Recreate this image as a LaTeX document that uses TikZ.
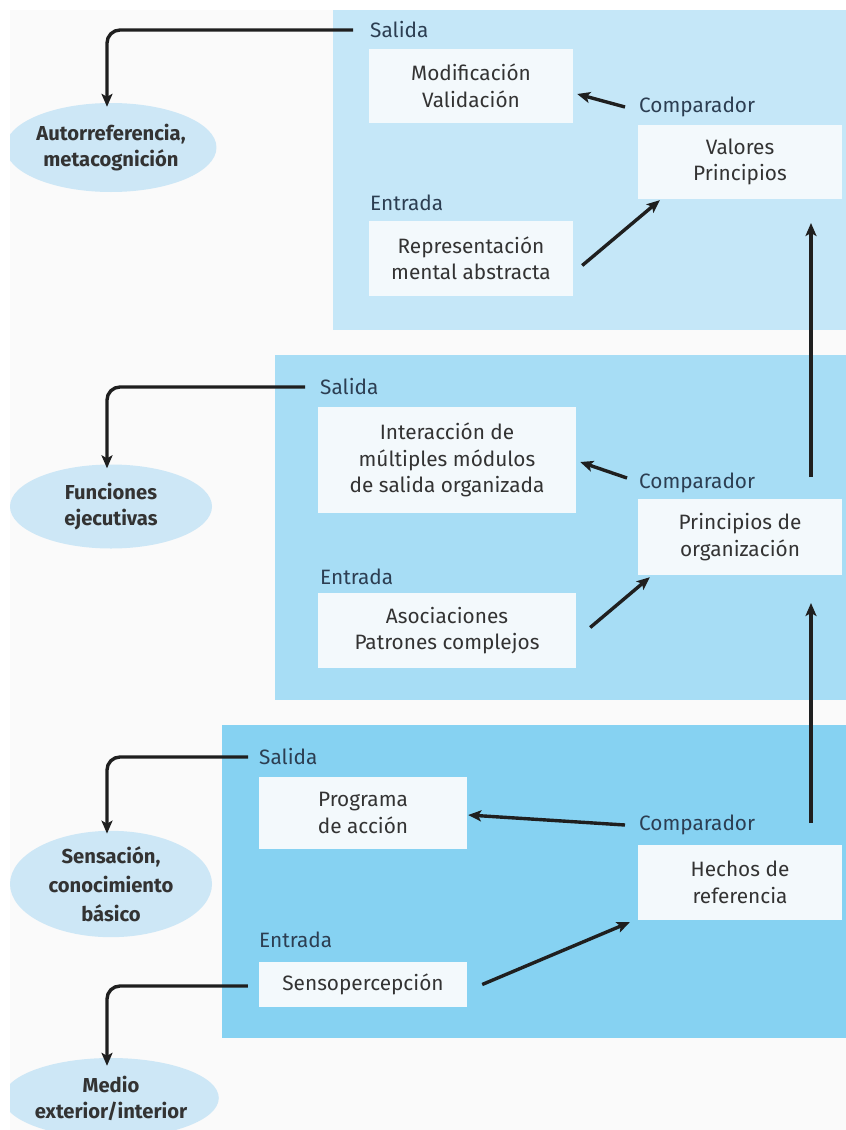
\documentclass[tikz,border=0pt]{standalone}
\usepackage{fontspec}
\setmainfont{Fira Sans}
\usetikzlibrary{arrows.meta,shapes.geometric,calc}
\definecolor{bgc}{HTML}{FAFAFA}
\definecolor{pone}{HTML}{C5E7F8}
\definecolor{ptwo}{HTML}{A7DDF5}
\definecolor{pthree}{HTML}{86D2F2}
\definecolor{boxc}{HTML}{F3F9FC}
\definecolor{ellc}{HTML}{CDE7F6}
\definecolor{txtc}{HTML}{333333}
\definecolor{lblc}{HTML}{2C3E52}
\begin{document}
\begin{tikzpicture}[x=1pt,y=-1pt,
  txt/.style={font=\fontsize{20.8}{26.5}\selectfont, text=txtc, align=center},
  box/.style={txt, fill=boxc, inner sep=0pt, minimum width=204pt, minimum height=74pt},
  lbl/.style={font=\fontsize{20.8}{26}\selectfont, text=lblc, inner sep=0pt, anchor=west},
  ell/.style={ellipse, fill=ellc, inner sep=0pt, minimum width=202pt, minimum height=89pt,
    font=\fontsize{20.2}{26}\selectfont\fontseries{sb}\selectfont, text=txtc, align=center},
  conn/.style={line width=3.4pt, draw=black!88, -{Stealth[length=13pt,width=11pt,inset=3pt]}},
  elbow/.style={conn, rounded corners=13pt}
]
\useasboundingbox (0,0) rectangle (846,1130);
\fill[white] (0,0) rectangle (846,1130);
\fill[bgc] (10,10) rectangle (846,1130);
% panels
\fill[pone] (333,10) rectangle (846,330);
\fill[ptwo] (275,355) rectangle (846,700);
\fill[pthree] (222,725) rectangle (846,1038);

% ellipses (clipped at the left frame)
\begin{scope}
\clip (10,10) rectangle (846,1130);
\node[ell] (o1) at (111,147.5) {Autorreferencia,\\metacognición};
\node[ell, minimum height=84pt] (o2) at (111,506.5) {Funciones\\ejecutivas};
\node[ell, minimum height=90pt, font=\fontsize{20.2}{29}\selectfont\fontseries{sb}\selectfont] (o3) at (111,884) {Sensación,\\conocimiento\\básico};
\node[ell, minimum height=80pt] (o4) at (111,1098) {Medio\\exterior/interior};
\end{scope}

% panel 1
\node[lbl] (s1) at (370,30) {Salida};
\node[box] (b1) at (471,86) {Modificación\\Validación};
\node[lbl] (c1) at (639,107) {Comparador};
\node[box, minimum width=204pt] (v1) at (740,162) {Valores\\Principios};
\node[lbl] (e1) at (370,203) {Entrada};
\node[box, minimum height=75pt] (r1) at (471,258.5) {Representación\\mental abstracta};

% panel 2
\node[lbl] (s2) at (320,387) {Salida};
\node[box, minimum width=258pt, minimum height=106pt] (b2) at (447,460) {Interacción de\\múltiples módulos\\de salida organizada};
\node[lbl] (c2) at (639,483) {Comparador};
\node[box, minimum height=76pt] (v2) at (740,537) {Principios de\\organización};
\node[lbl] (e2) at (320,577) {Entrada};
\node[box, minimum width=258pt, minimum height=75pt] (a2) at (447,630.5) {Asociaciones\\Patrones complejos};

% panel 3
\node[lbl] (s3) at (259,757) {Salida};
\node[box, minimum width=208pt, minimum height=72pt] (b3) at (363,813) {Programa\\de acción};
\node[lbl] (c3) at (639,825) {Comparador};
\node[box, minimum height=75pt] (h3) at (740,882.5) {Hechos de\\referencia};
\node[lbl] (e3) at (259,940) {Entrada};
\node[box, minimum width=208pt, minimum height=45pt] (p3) at (363,984.5) {Sensopercepción};

% coordinates for connector ends
\coordinate (c1a) at ($(c1.west)+(-14,0)$);
\coordinate (b1a) at ($(b1.east)+(4,8)$);
\coordinate (r1a) at ($(r1.east)+(9,7)$);
\coordinate (v1a) at ($(v1.south west)+(22,1)$);
\coordinate (c2a) at ($(c2.west)+(-12,-5)$);
\coordinate (b2a) at ($(b2.east)+(4,2)$);
\coordinate (a2a) at ($(a2.east)+(14,-3)$);
\coordinate (v2a) at ($(v2.south west)+(12,2)$);
\coordinate (c3a) at ($(c3.west)+(-14,0)$);
\coordinate (b3a) at ($(b3.east)+(1,2)$);
\coordinate (p3a) at ($(p3.east)+(15,0)$);
\coordinate (h3a) at ($(h3.south west)+(-8,2)$);
\coordinate (up1s) at (811,477);
\coordinate (up1e) at (811,223);
\coordinate (up2s) at (811,823);
\coordinate (up2e) at (811,603);

% elbow connectors
\draw[elbow] ([xshift=-17pt]s1.west) -| ([xshift=-4pt,yshift=-4pt]o1.north);
\draw[elbow] ([xshift=-15pt]s2.west) -| ([xshift=-4pt,yshift=-4pt]o2.north);
\draw[elbow] ([xshift=-11pt]s3.west) -| ([xshift=-4pt,yshift=-3pt]o3.north);
\draw[elbow] ([xshift=-11pt,yshift=-1.5pt]p3.west) -| ([xshift=-4pt,yshift=-8pt]o4.north);

% inner connectors
\draw[conn] (c1a) -- (b1a);
\draw[conn] (r1a) -- (v1a);
\draw[conn] (c2a) -- (b2a);
\draw[conn] (a2a) -- (v2a);
\draw[conn] (c3a) -- (b3a);
\draw[conn] (p3a) -- (h3a);
\draw[conn] (up1s) -- (up1e);
\draw[conn] (up2s) -- (up2e);
\end{tikzpicture}
\end{document}
